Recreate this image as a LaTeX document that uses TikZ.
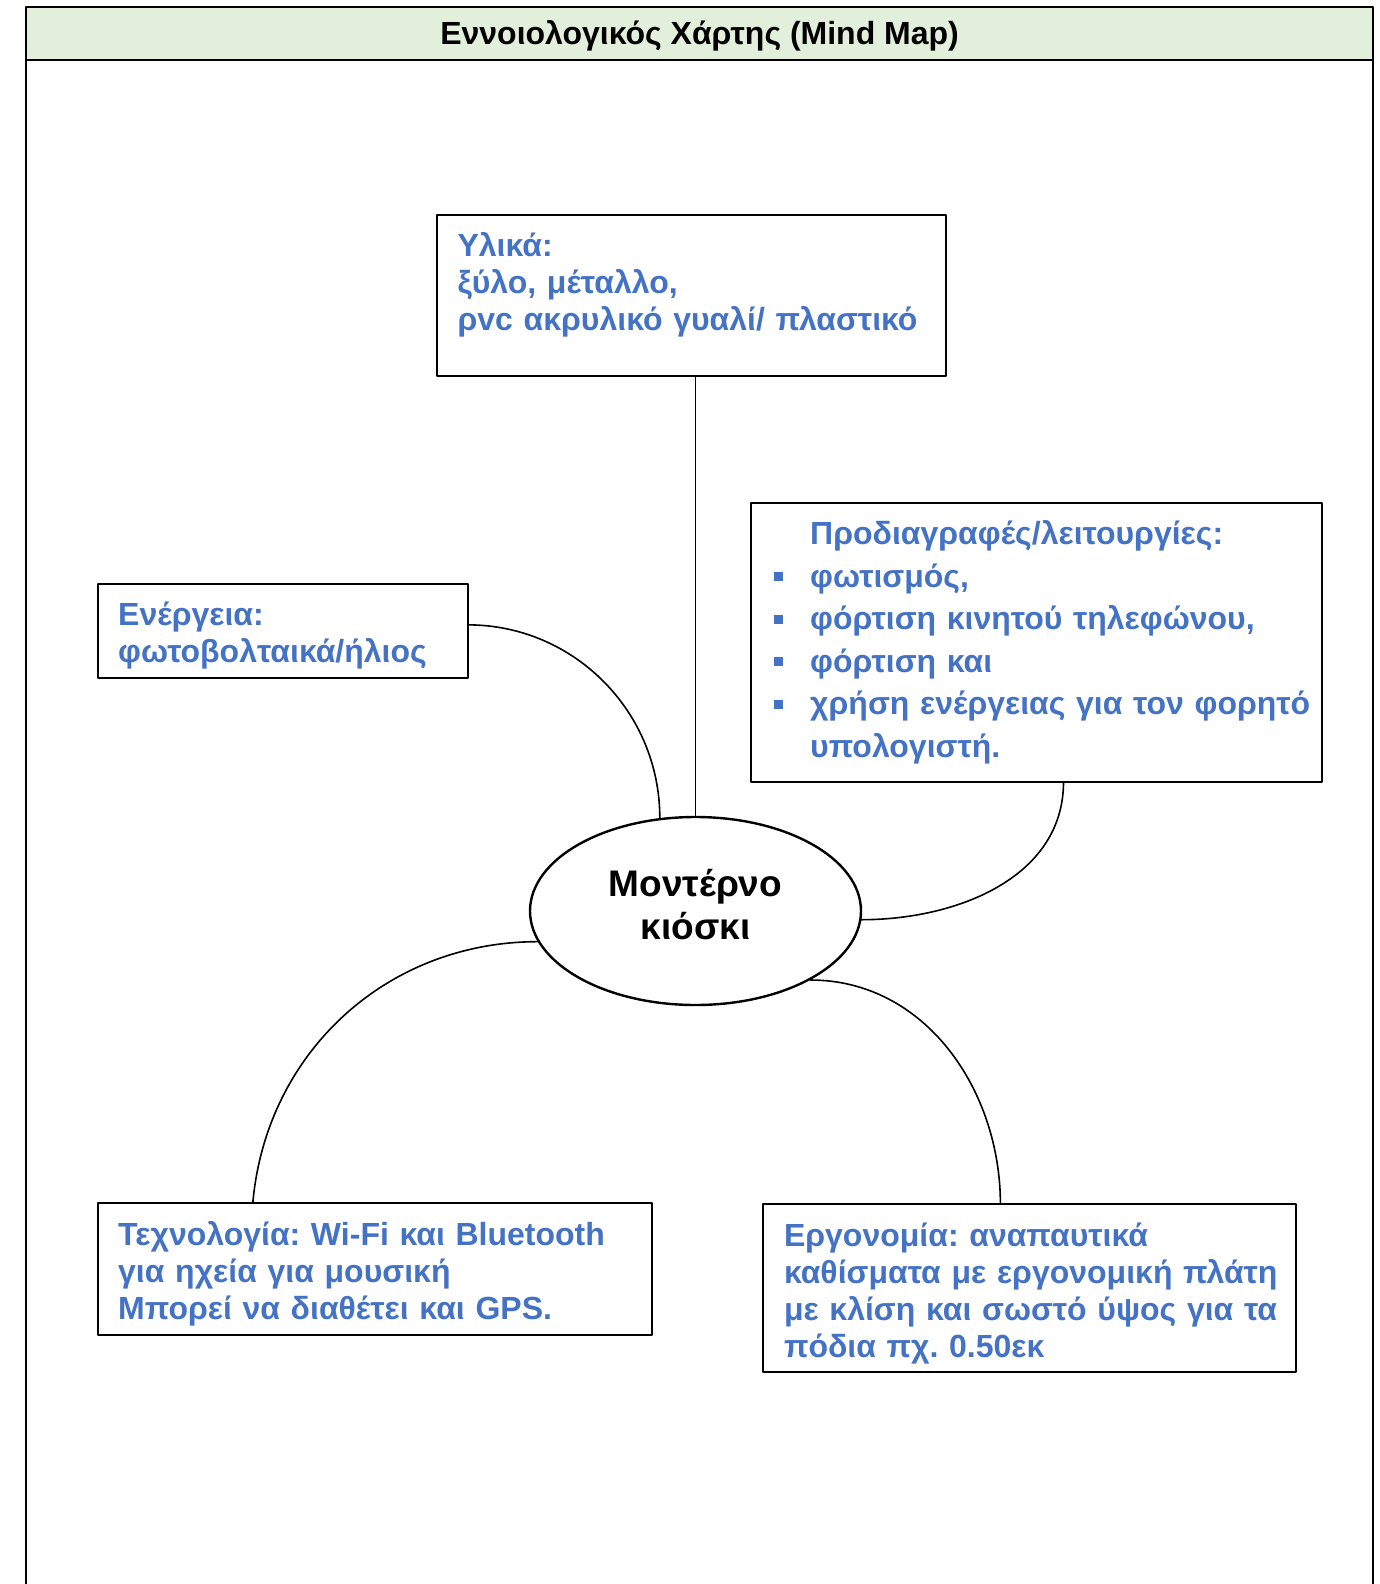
\documentclass[tikz,border=0pt]{standalone}
\usepackage{fontspec}
\usetikzlibrary{shapes.geometric}
\setmainfont{Liberation Sans}
\definecolor{txtblue}{HTML}{4472C4}
\definecolor{bandgreen}{HTML}{E2EFDA}
\newcommand{\sqbullet}{\leavevmode\llap{\textcolor{txtblue}{\rule[6pt]{9pt}{9pt}}\hspace{27.3pt}}}
\tikzset{
  box/.style={draw, line width=2pt, anchor=north west, inner xsep=6pt, inner ysep=0pt, outer sep=0pt,
    align=left, text=txtblue, font=\bfseries\frenchspacing\fontsize{32}{37}\selectfont},
  link/.style={line width=1.6pt}
}
\begin{document}
\begin{tikzpicture}[x=1pt, y=-1pt, line join=round, line cap=round]
\useasboundingbox (0,0) rectangle (1380,1584);
\node[draw, line width=2pt, fill=bandgreen, anchor=north west, minimum width=1346.5pt, inner sep=0pt, outer sep=0pt,
  text height=38pt, text depth=14.6pt, font=\bfseries\fontsize{32}{37}\selectfont] (title) at (26.3,7) {Εννοιολογικός Χάρτης (Mind Map)};
\draw[line width=2pt] (title.south west) -- (26.3,1584) (title.south east) -- (1372.8,1584);

\node[draw, ellipse, line width=2.4pt, minimum width=331pt, minimum height=188pt, inner sep=0pt, align=center,
  text height=71.4pt, text depth=15.4pt, font=\bfseries\fontsize{37}{42.4}\selectfont] (kiosk) at (695.5,911) {Μοντέρνο\\κιόσκι};

\node[box, text width=496.1pt, text height=41.4pt, text depth=119.2pt] (materials) at (437.4,215.2)
  {\leftskip=14.2pt Υλικά:\\ξύλο, μέταλλο,\\ρvc ακρυλικό γυαλί/ πλαστικό\par};
\node[box, text width=357.7pt, text height=41.4pt, text depth=52.5pt] (energy) at (98,583.9)
  {\leftskip=14.2pt Ενέργεια:\\φωτοβολταικά/ήλιος\par};
\node[box, text width=559.8pt, text height=41.5pt, text depth=237.4pt, font=\bfseries\frenchspacing\fontsize{32}{42.5}\selectfont] (specs) at (750.6,503)
  {\leftskip=53.6pt Προδιαγραφές/λειτουργίες:\\\sqbullet φωτισμός,\\\sqbullet φόρτιση κινητού τηλεφώνου,\\\sqbullet φόρτιση και\\\sqbullet χρήση ενέργειας για τον φορητό\\υπολογιστή.\par};
\node[box, text width=541.6pt, text height=42.5pt, text depth=88.9pt] (tech) at (98,1203.1)
  {\leftskip=14.2pt Τεχνολογία: Wi-Fi και Bluetooth\\για ηχεία για μουσική\\Μπορεί να διαθέτει και GPS.\par};
\node[box, text width=521.4pt, text height=42.4pt, text depth=125.3pt] (ergo) at (762.7,1204.2)
  {\leftskip=15.3pt Εργονομία: αναπαυτικά\\καθίσματα με εργονομική πλάτη\\με κλίση και σωστό ύψος για τα\\πόδια πχ. 0.50εκ\par};

\draw[link] (kiosk.north |- materials.south) -- (kiosk.north);
\draw[link] ([yshift=6pt]energy.east) to[out=0, in=90] (kiosk.111);
\draw[link] ([xshift=27pt]specs.south) to[out=-90, in=0] (kiosk.-3);
\draw[link] ([xshift=-122pt]tech.north) to[out=85, in=180] (kiosk.191);
\draw[link] (kiosk.-31) to[out=0, in=90] ([xshift=-29pt]ergo.north);
\end{tikzpicture}
\end{document}
